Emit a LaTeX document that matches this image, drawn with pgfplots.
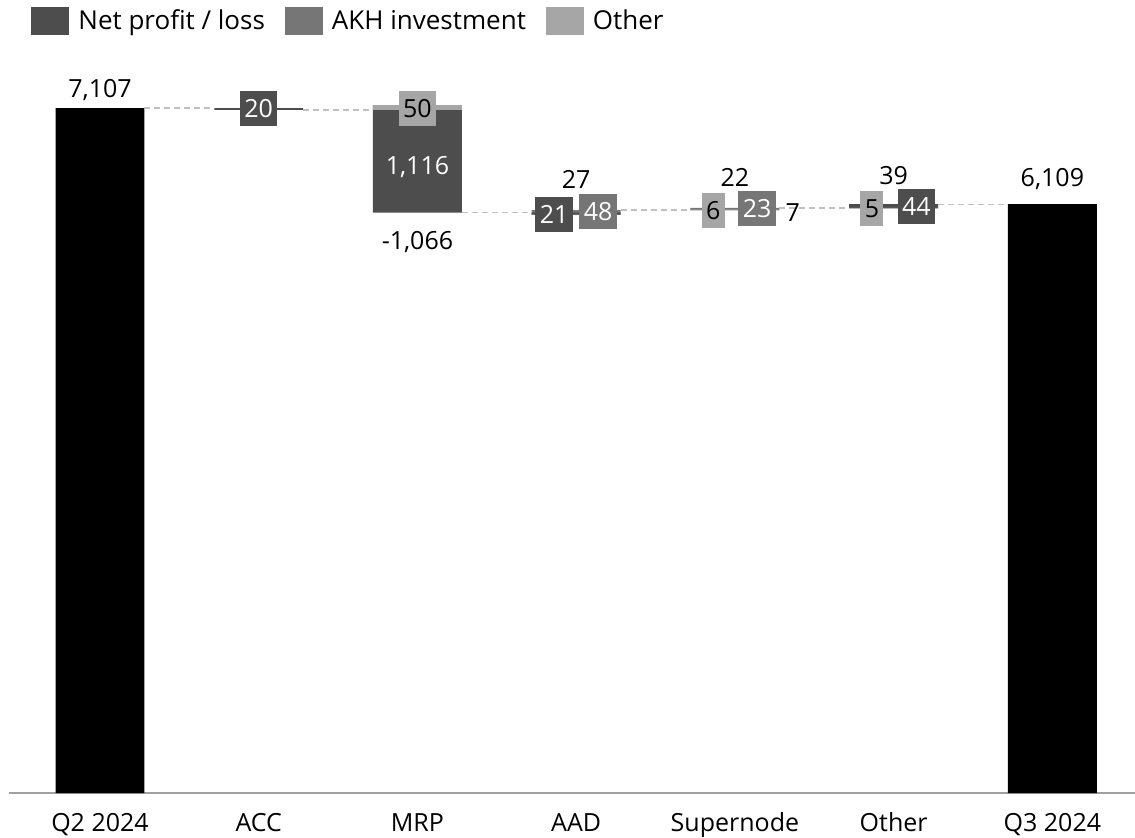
\documentclass[border=0pt]{standalone}
\usepackage{pgfplots}
\pgfplotsset{compat=1.18}
\usepackage{pgfplotstable}
\usepackage{fontspec}
\setmainfont{Open Sans}

\definecolor{netc}{RGB}{77,77,77}
\definecolor{akhc}{RGB}{118,118,118}
\definecolor{otherc}{RGB}{166,166,166}
\definecolor{linkc}{RGB}{192,192,192}
\definecolor{axisc}{RGB}{160,160,160}

% Bridge from Q2 2024 to Q3 2024: starting level, totals and the signed changes
\pgfplotstableread{
x base total other net akh
0 0    7107  0    0     0
1 7107 0     0    -20   0
2 7087 0     50   -1116 0
3 6021 0     0    -21   48
4 6048 0     6    -7    23
5 6070 0     -5   44    0
6 0    6109  0    0     0
}\bridge

% Dashed connectors between neighbouring columns (nan rows break the line)
\pgfplotstableread{
x    y
0.28 7107
0.72 7107
nan  nan
1.28 7087
1.72 7087
nan  nan
2.28 6021
2.72 6021
nan  nan
3.28 6048
3.72 6048
nan  nan
4.28 6070
4.72 6070
nan  nan
5.28 6109
5.72 6109
}\links

\pgfplotsset{
  bridgeframe/.style={
    at={(0,0)}, anchor=south west, scale only axis,
    width=563.5pt, height=366.5pt,
    xmin=-0.57, xmax=6.53, ymin=0, ymax=7605, clip=false,
  },
}
\tikzset{
  boxlbl/.style={inner xsep=2.2pt, inner ysep=0pt, minimum height=17.5pt,
    text height=9pt, text depth=0pt, anchor=center},
}

\begin{document}
\begin{tikzpicture}[font=\fontsize{12.5}{15}\selectfont]
\path[use as bounding box] (-4.75pt,-22pt) rectangle (562.75pt,396.5pt);

% columns
\begin{axis}[
  bridgeframe,
  ybar stacked, stack negative=on previous, bar width=0.56,
  axis y line=none, axis x line*=bottom,
  x axis line style={axisc, line width=1pt, -},
  xtick={0,...,6},
  xticklabels={Q2 2024, ACC, MRP, AAD, Supernode, Other, Q3 2024},
  major tick length=0pt,
  xticklabel style={anchor=base, yshift=-19pt, text=black},
  legend columns=3,
  legend image code/.code={\fill[#1] (0pt,-7pt) rectangle (19pt,7pt);},
  legend style={draw=none, fill=none, at={(0.0191,1.0532)}, anchor=west,
    inner sep=0pt, font=\fontsize{13}{15}\selectfont,
    nodes={inner xsep=4.5pt, inner ysep=2pt, anchor=west},
    /tikz/every even column/.append style={column sep=5.5pt}},
]
\addplot[forget plot, draw=none, fill=none] table[x=x, y=base] {\bridge};
\addplot[forget plot, draw=none, fill=black] table[x=x, y=total] {\bridge};
\addplot[forget plot, draw=none, fill=otherc] table[x=x, y=other] {\bridge};
\addplot[forget plot, draw=none, fill=netc] table[x=x, y=net] {\bridge};
\addplot[forget plot, draw=none, fill=akhc] table[x=x, y=akh] {\bridge};
\addlegendimage{draw=none, fill=netc}
\addlegendentry{Net profit / loss}
\addlegendimage{draw=none, fill=akhc}
\addlegendentry{AKH investment}
\addlegendimage{draw=none, fill=otherc}
\addlegendentry{Other}
\end{axis}

% connectors and value labels
\begin{axis}[bridgeframe, hide axis, unbounded coords=jump]
\addplot[linkc, densely dashed, line width=0.6pt] table[x=x, y=y] {\links};
\node at (0,7294) {7,107};
\node at (6,6372) {6,109};
\node[boxlbl, fill=netc, text=white] at (1,7097) {20};
\node[boxlbl, fill=otherc, text=black] at (2,7100) {50};
\node[text=white] at (2,6495) {1,116};
\node at (2,5717) {-1,066};
\node at (3,6370) {27};
\node[boxlbl, fill=netc, text=white] at (2.861,6000) {21};
\node[boxlbl, fill=akhc, text=white] at (3.138,6028) {48};
\node at (4,6386) {22};
\node[boxlbl, fill=otherc, text=black] at (3.863,6041) {6};
\node[boxlbl, fill=akhc, text=white] at (4.140,6061) {23};
\node at (4.364,6018) {7};
\node at (5,6403) {39};
\node[boxlbl, fill=otherc, text=black] at (4.863,6061) {5};
\node[boxlbl, fill=netc, text=white] at (5.143,6080) {44};
\end{axis}
\end{tikzpicture}
\end{document}
